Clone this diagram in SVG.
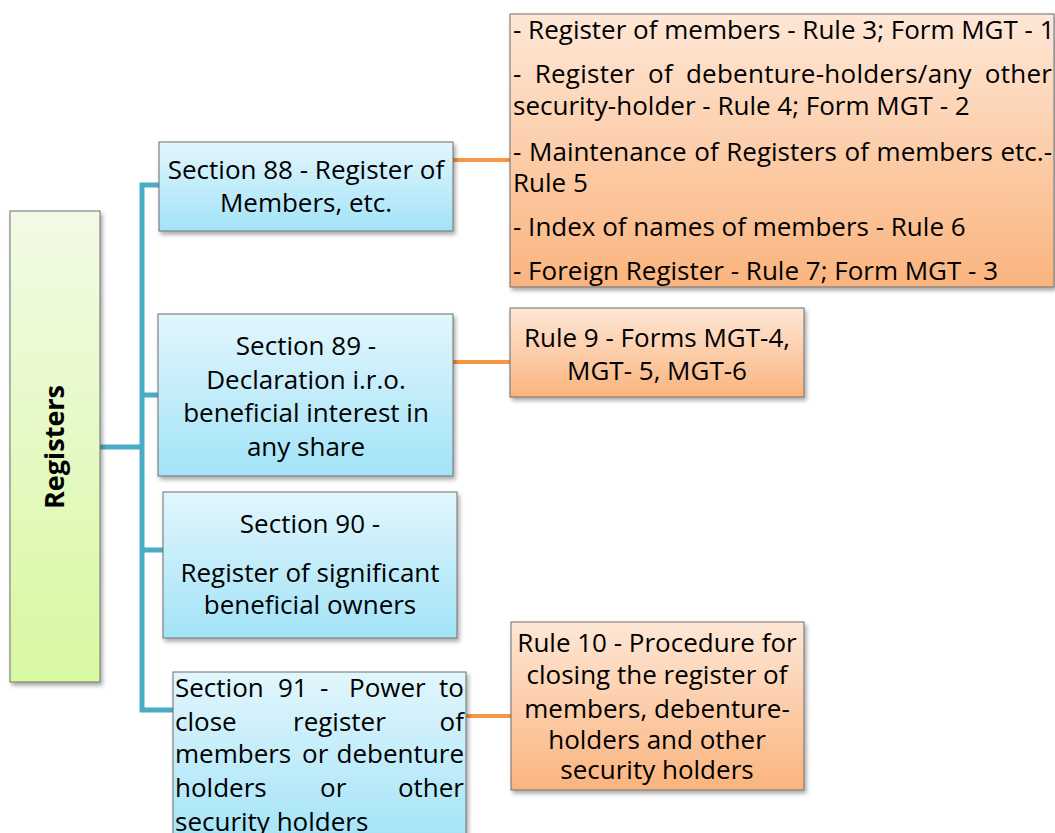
<svg xmlns="http://www.w3.org/2000/svg" width="1055" height="833" viewBox="0 0 1055 833">
<defs>
<linearGradient id="gGreen" x1="0" y1="0" x2="0" y2="1"><stop offset="0" stop-color="#f2fbe6"/><stop offset="1" stop-color="#d8f8a1"/></linearGradient>
<linearGradient id="gBlue" x1="0" y1="0" x2="0" y2="1"><stop offset="0" stop-color="#e2f6fd"/><stop offset="1" stop-color="#a2e3f7"/></linearGradient>
<linearGradient id="gOrange" x1="0" y1="0" x2="0" y2="1"><stop offset="0" stop-color="#fee7d6"/><stop offset="1" stop-color="#fab47e"/></linearGradient>
<filter id="sh" x="-10%" y="-10%" width="130%" height="130%"><feDropShadow dx="2" dy="3" stdDeviation="2" flood-color="#000" flood-opacity="0.35"/></filter>
<style>
.box{stroke:#6e6e6e;stroke-width:1;filter:url(#sh)}
.blue{fill:url(#gBlue)}
.orange{fill:url(#gOrange)}
.green{fill:url(#gGreen)}
text{font-family:"Open Sans","Noto Sans","DejaVu Sans",sans-serif;font-size:26px;fill:#000}
.c{text-anchor:middle}
.e{text-anchor:end}
.blueline{stroke:#4bacc6;fill:none;stroke-width:5}
.orangeline{stroke:#f79646;fill:none;stroke-width:4}
</style>
</defs>
<g id="connectors">
<path class="blueline" d="M100,447 H142"/>
<path class="blueline" d="M159,185 H142 V710 H173"/>
<path class="blueline" d="M142,395 H158"/>
<path class="blueline" d="M142,550 H163"/>
<path class="orangeline" d="M453,160 H510"/>
<path class="orangeline" d="M453,362 H510"/>
<path class="orangeline" d="M466,716 H511"/>
</g>
<g id="registers">
<rect class="box green" x="10" y="211" width="90" height="471"/>
<text class="c" transform="translate(64,447) rotate(-90)" style="font-weight:bold;font-size:27px">Registers</text>
</g>
<g id="sec88">
<rect class="box blue" x="159" y="142" width="294" height="89"/>
<text class="c" x="306" y="179">Section 88 - Register of</text>
<text class="c" x="306" y="212">Members, etc.</text>
</g>
<g id="sec89">
<rect class="box blue" x="158" y="314" width="295" height="162"/>
<text class="c" x="306" y="355">Section 89 -</text>
<text class="c" x="306" y="389">Declaration i.r.o.</text>
<text class="c" x="306" y="422">beneficial interest in</text>
<text class="c" x="306" y="456">any share</text>
</g>
<g id="sec90">
<rect class="box blue" x="163" y="492" width="294" height="146"/>
<text class="c" x="310" y="533">Section 90 -</text>
<text class="c" x="310" y="582">Register of significant</text>
<text class="c" x="310" y="614">beneficial owners</text>
</g>
<g id="sec91">
<rect class="box blue" x="173" y="672" width="293" height="175"/>
<text x="175" y="697">Section</text><text x="278" y="697">91</text><text x="320" y="697">-</text><text x="349" y="697">Power</text><text class="e" x="464" y="697">to</text>
<text x="175" y="731">close</text><text x="293" y="731">register</text><text class="e" x="464" y="731">of</text>
<text x="175" y="763">members</text><text x="302" y="763">or</text><text class="e" x="464" y="763">debenture</text>
<text x="175" y="797">holders</text><text x="320" y="797">or</text><text class="e" x="464" y="797">other</text>
<text x="175" y="831">security holders</text>
</g>
<g id="rules88">
<rect class="box orange" x="510" y="14" width="544" height="273"/>
<text x="513" y="39">- Register of members - Rule 3; Form MGT - 1</text>
<text x="513" y="83" word-spacing="6" textLength="539" lengthAdjust="spacing">- Register of debenture-holders/any other</text>
<text x="513" y="115">security-holder - Rule 4; Form MGT - 2</text>
<text x="513" y="161" word-spacing="1" textLength="539" lengthAdjust="spacing">- Maintenance of Registers of members etc.-</text>
<text x="513" y="192">Rule 5</text>
<text x="513" y="236">- Index of names of members - Rule 6</text>
<text x="513" y="280">- Foreign Register - Rule 7; Form MGT - 3</text>
</g>
<g id="rule9">
<rect class="box orange" x="510" y="308" width="294" height="89"/>
<text class="c" x="657" y="347">Rule 9 - Forms MGT-4,</text>
<text class="c" x="657" y="380">MGT- 5, MGT-6</text>
</g>
<g id="rule10">
<rect class="box orange" x="511" y="622" width="293" height="168"/>
<text class="c" x="657" y="652">Rule 10 - Procedure for</text>
<text class="c" x="657" y="684">closing the register of</text>
<text class="c" x="657" y="718">members, debenture-</text>
<text class="c" x="657" y="749">holders and other</text>
<text class="c" x="657" y="779">security holders</text>
</g>
</svg>
